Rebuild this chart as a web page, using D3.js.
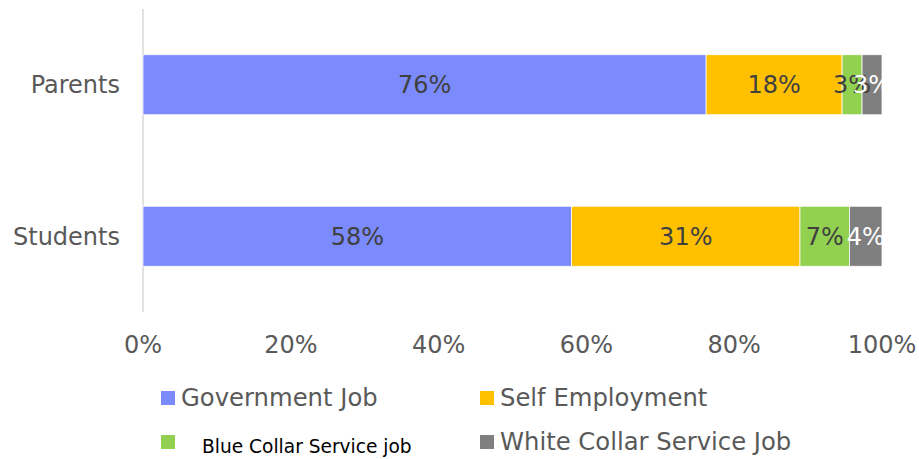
<!DOCTYPE html>
<html>
<head>
<meta charset="utf-8">
<script src="https://cdn.jsdelivr.net/npm/d3@7"></script>
<style>
  body { margin: 0; background: #fff; }
  text { font-family: "DejaVu Sans", Verdana, sans-serif; }
</style>
</head>
<body>
<div id="chart"></div>
<script>
// data
var groups = ["Parents", "Students"]
var series = ["Government Job", "Self Employment", "Blue Collar Service job", "White Collar Service Job"]
var parents = [76.2, 18.4, 2.7, 2.7]
var students = [58.0, 30.9, 6.7, 4.4]
var ticks = [0, 20, 40, 60, 80, 100]
var colors = ["#7b8bfd", "#ffc000", "#92d050", "#7f7f7f"]

var width = 919, height = 459

var svg = d3.select("#chart")
    .append("svg")
    .attr("width", width)
    .attr("height", height)

// build rows for d3.stack
var rows = groups.map(function(g, i){
    var vals = i == 0 ? parents : students
    var r = {group: g}
    series.forEach(function(s, j){ r[s] = vals[j] })
    return r
})
var stacked = d3.stack().keys(series)(rows)

var x = d3.scaleLinear().domain([0, 100]).range([143, 882])
var y = d3.scaleBand()
    .domain(groups)
    .range([9, 312])
    .paddingInner(0.604)
    .paddingOuter(0.302)

// vertical category axis line
svg.append("line")
    .attr("x1", x(0)).attr("x2", x(0))
    .attr("y1", 9).attr("y2", 312)
    .attr("stroke", "#d9d9d9")
    .attr("stroke-width", 1.5)

// category labels
svg.append("g")
    .selectAll("text")
    .data(groups)
    .enter().append("text")
    .attr("x", 120)
    .attr("y", d => y(d) + y.bandwidth()/2)
    .attr("dy", "0.35em")
    .attr("text-anchor", "end")
    .attr("font-size", 24)
    .attr("fill", "#595959")
    .text(d => d)

// x tick labels
svg.append("g")
    .selectAll("text")
    .data(ticks)
    .enter().append("text")
    .attr("x", d => x(d))
    .attr("y", 353)
    .attr("text-anchor", "middle")
    .attr("font-size", 24)
    .attr("fill", "#595959")
    .text(d => d + "%")

// bars
var layer = svg.append("g")
    .selectAll("g")
    .data(stacked)
    .enter().append("g")
    .attr("fill", (d, i) => colors[i])

layer.selectAll("rect")
    .data(d => d)
    .enter().append("rect")
    .attr("x", d => x(d[0]))
    .attr("y", d => y(d.data.group))
    .attr("width", d => x(d[1]) - x(d[0]))
    .attr("height", y.bandwidth())
    .attr("stroke", "#fff")
    .attr("stroke-width", 0.75)

// value labels
stacked.forEach(function(s, i){
    svg.append("g")
        .selectAll("text")
        .data(s)
        .enter().append("text")
        .attr("x", d => (x(d[0]) + x(d[1]))/2)
        .attr("y", d => y(d.data.group) + y.bandwidth()/2)
        .attr("dy", "0.36em")
        .attr("text-anchor", "middle")
        .attr("font-size", 24)
        .attr("fill", i == 3 ? "#ffffff" : "#404040")
        .text(d => Math.round(d[1] - d[0]) + "%")
})

// legend, 2 x 2
var legX = [161, 480], legY = [391, 435]
series.forEach(function(s, i){
    var lx = legX[i % 2], ly = legY[Math.floor(i / 2)]
    svg.append("rect")
        .attr("x", lx).attr("y", ly)
        .attr("width", 14).attr("height", 14)
        .attr("fill", colors[i])
    var t = svg.append("text")
        .attr("x", lx + 20)
        .attr("y", ly + 15)
        .attr("font-size", 24.3)
        .attr("fill", "#595959")
        .text(s)
    // this one entry uses a smaller, black font in the original
    if (i == 2) {
        t.attr("x", lx + 41).attr("y", ly + 18)
         .attr("font-size", 18.6)
         .attr("fill", "#000")
    }
})
</script>
</body>
</html>
